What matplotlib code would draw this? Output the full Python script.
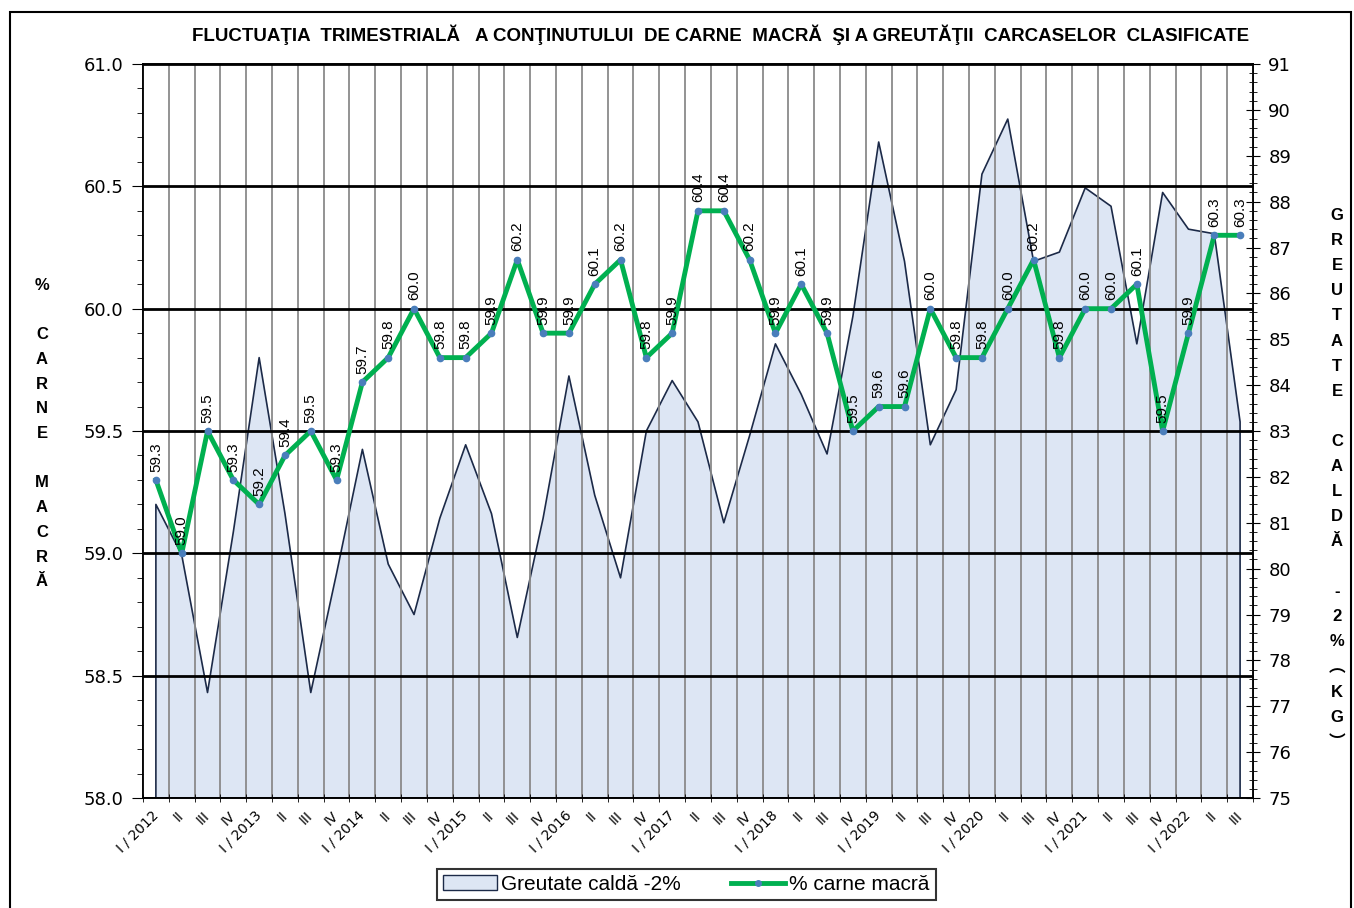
import numpy as np
import matplotlib
matplotlib.use("Agg")
import matplotlib.pyplot as plt
from matplotlib import font_manager
from matplotlib.patches import Rectangle, Patch
from matplotlib.lines import Line2D
from matplotlib.ticker import MultipleLocator

# trimestre I/2012 ... III/2022
trimestre = ["I", "II", "III", "IV"]
ani = list(range(2012, 2023))
etichete = []
for an in ani:
    for t in trimestre:
        etichete.append(f"{t} / {an}" if t == "I" else t)
etichete = etichete[:43]

# % carne macra (axa stanga)
carne_macra = [59.3, 59.0, 59.5, 59.3, 59.2, 59.4, 59.5, 59.3, 59.7, 59.8,
               60.0, 59.8, 59.8, 59.9, 60.2, 59.9, 59.9, 60.1, 60.2, 59.8,
               59.9, 60.4, 60.4, 60.2, 59.9, 60.1, 59.9, 59.5, 59.6, 59.6,
               60.0, 59.8, 59.8, 60.0, 60.2, 59.8, 60.0, 60.0, 60.1, 59.5,
               59.9, 60.3, 60.3]

# greutate calda -2% (axa dreapta, kg)
greutate_calda = [81.4, 80.3, 77.3, 80.8, 84.6, 81.2, 77.3, 79.9, 82.6, 80.1,
                  79.0, 81.1, 82.7, 81.2, 78.5, 81.1, 84.2, 81.6, 79.8, 83.0,
                  84.1, 83.2, 81.0, 82.9, 84.9, 83.8, 82.5, 85.5, 89.3, 86.7,
                  82.7, 83.9, 88.6, 89.8, 86.7, 86.9, 88.3, 87.9, 84.9, 88.2,
                  87.4, 87.3, 83.2]


def font_ok(nume):
    try:
        font_manager.findfont(font_manager.FontProperties(family=nume),
                              fallback_to_default=False)
        return True
    except Exception:
        return False


narrow = "Liberation Sans Narrow" if font_ok("Liberation Sans Narrow") else "Liberation Sans"
titlu_size = 15 if narrow == "Liberation Sans Narrow" else 13.5

VERDE = "#00b050"
ALBASTRU = "#dde6f4"
CONTUR = "#1c2a48"

fig = plt.figure(figsize=(13.54, 9.08), dpi=100)
ax = fig.add_axes([0.1056, 0.1211, 0.8198, 0.8084])
ax2 = ax.twinx()
ax.set_zorder(ax2.get_zorder() + 1)
ax.patch.set_visible(False)

x = np.arange(len(carne_macra))

# aria - greutate
ax2.fill_between(x, greutate_calda, 75, color=ALBASTRU, lw=0)
ax2.plot(np.r_[x[0], x, x[-1]], np.r_[75, greutate_calda, 75], color=CONTUR, lw=1.2)
ax2.set_ylim(75, 91)
ax2.yaxis.set_major_locator(MultipleLocator(1))
ax2.yaxis.set_minor_locator(MultipleLocator(0.2))
ax2.tick_params(axis="y", which="major", direction="inout", length=10, labelsize=13, pad=6)
ax2.tick_params(axis="y", which="minor", direction="inout", length=6)

# linia - carne macra
ax.plot(x, carne_macra, color=VERDE, lw=3.5, marker="o", ms=4.5,
        mfc="#4a7ebb", mec="#4a7ebb", zorder=5)
for i, v in enumerate(carne_macra):
    ax.annotate(f"{v:.1f}", (i, v), xytext=(0, 6), textcoords="offset points",
                rotation=90, ha="center", va="bottom", fontsize=11,
                family="Liberation Sans", zorder=6)

ax.set_xlim(-0.5, len(x) - 0.5)
ax.set_ylim(58, 61)
ax.yaxis.set_major_locator(MultipleLocator(0.5))
ax.yaxis.set_minor_locator(MultipleLocator(0.1))
ax.yaxis.set_major_formatter("{x:.1f}")
ax.tick_params(axis="y", which="major", length=8, labelsize=13, pad=6)
ax.tick_params(axis="y", which="minor", length=4)

ax.set_xticks(x)
ax.set_xticklabels(etichete, rotation=45, ha="right", va="center",
                   rotation_mode="anchor", fontsize=10)
ax.set_xticks(np.arange(-0.5, len(x), 1), minor=True)
ax.tick_params(axis="x", which="major", length=0, pad=11)
ax.tick_params(axis="x", which="minor", length=6, direction="inout")

ax.grid(which="minor", axis="x", color="#8a8a8a", lw=1.3)
ax.grid(which="major", axis="y", color="black", lw=2)
ax.set_axisbelow(True)

for sp in list(ax.spines.values()) + list(ax2.spines.values()):
    sp.set_color("black")
    sp.set_linewidth(1.2)

fig.text(0.532, 0.962,
         "FLUCTUAŢIA  TRIMESTRIALĂ   A CONŢINUTULUI  DE CARNE  MACRĂ  ŞI A GREUTĂŢII  CARCASELOR  CLASIFICATE",
         ha="center", va="center", fontsize=titlu_size, fontweight="bold", family=narrow)

fig.text(0.031, 0.5226, "\n".join(list("%") + [""] + list("CARNE") + [""] + list("MACRĂ")),
         ha="center", va="center", fontsize=12, fontweight="bold",
         linespacing=1.81, family="Liberation Sans")
eticheta_dr = list("GREUTATE") + [""] + list("CALDĂ") + [""] + ["-", "2", "%", "︵", "K", "G", "︶"]
fig.text(0.9875, 0.4725, "\n".join(eticheta_dr),
         ha="center", va="center", fontsize=12, fontweight="bold",
         linespacing=1.84, family=["Liberation Sans", "Noto Sans CJK JP"])

handles = [Patch(facecolor=ALBASTRU, edgecolor=CONTUR, label="Greutate caldă -2%"),
           Line2D([], [], color=VERDE, lw=3.5, marker="o", ms=4,
                  mfc="#4a7ebb", mec="#4a7ebb", label="% carne macră")]
leg = fig.legend(handles=handles, loc="center", bbox_to_anchor=(0.507, 0.026),
                 ncol=2, frameon=True, fancybox=False, edgecolor="black",
                 prop={"family": "Liberation Sans", "size": 15},
                 handlelength=2.6, handletextpad=0.2, columnspacing=2.4,
                 borderpad=0.3, borderaxespad=0.0)
leg.get_frame().set_linewidth(1.5)

fig.patches.append(Rectangle((0.0074, -0.01), 0.9905, 0.9968, transform=fig.transFigure,
                             fill=False, edgecolor="black", lw=1.5))

fig.savefig("out.png", dpi=100)
